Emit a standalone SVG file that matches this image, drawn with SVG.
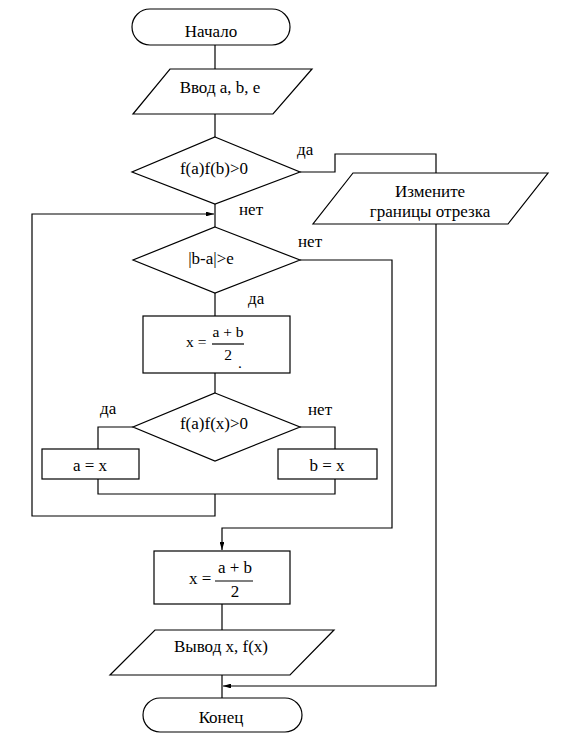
<svg xmlns="http://www.w3.org/2000/svg" width="568" height="746" viewBox="0 0 568 746">
<defs>
<marker id="arr" viewBox="0 0 10 6" refX="10" refY="3" markerWidth="8" markerHeight="4.8" markerUnits="userSpaceOnUse" orient="auto">
<path d="M0,0 L10,3 L0,6 Z" fill="#000"/>
</marker>
<style>
.s{fill:#fff;stroke:#000;stroke-width:1.2}
.c{fill:none;stroke:#000;stroke-width:1.2}
.t{font-family:'Liberation Serif','DejaVu Serif',serif;font-size:17px;fill:#000}
.m{text-anchor:middle}
.f{font-size:15.5px}
</style>
</defs>
<rect width="568" height="746" fill="#fff"/>
<g id="connectors">
<path class="c" d="M215,45 V69"/>
<path class="c" d="M215,114 V137"/>
<path class="c" d="M215,204 V227"/>
<path class="c" d="M300,172 H335 V154 H436 V173"/>
<path class="c" d="M436,224 V686 H223" marker-end="url(#arr)"/>
<path class="c" d="M215,293 V316"/>
<path class="c" d="M300,260 H392 V528 H222 V550" marker-end="url(#arr)"/>
<path class="c" d="M215,373 V393"/>
<path class="c" d="M133,427 H98 V449"/>
<path class="c" d="M300,427 H335 V449"/>
<path class="c" d="M98,479 V494 H335 V479"/>
<path class="c" d="M215,494 V516 H32 V214 H214" marker-end="url(#arr)"/>
<path class="c" d="M222,604 V630"/>
<path class="c" d="M222,675 V698"/>
</g>
<g class="t" font-family="Liberation Serif, DejaVu Serif, serif">
<g id="start">
<rect class="s" x="132" y="9" width="158" height="36" rx="18" ry="18"/>
<text class="m" x="211" y="37">Начало</text>
</g>
<g id="input">
<path class="s" d="M170,69 H312 L273,114 H133 Z"/>
<text class="m" x="220" y="93">Ввод a, b, e</text>
</g>
<g id="cond1">
<path class="s" d="M215,137 L300,172 L215,204 L132,172 Z"/>
<text class="m" x="214" y="174">f(a)f(b)&gt;0</text>
<text x="297" y="155">да</text>
<text x="239" y="215">нет</text>
</g>
<g id="change">
<path class="s" d="M353,173 H548 L508,224 H313 Z"/>
<text class="m" x="430" y="197">Измените</text>
<text class="m" x="430" y="217">границы отрезка</text>
</g>
<g id="cond2">
<path class="s" d="M215,227 L300,260 L215,293 L133,260 Z"/>
<text class="m" x="211" y="264">|b-a|&gt;e</text>
<text x="298" y="247">нет</text>
<text x="248" y="304">да</text>
</g>
<g id="calc1">
<rect class="s" x="143" y="316" width="147" height="57"/>
<text class="f" x="186" y="347">x =</text>
<text class="f m" x="228" y="337">a + b</text>
<path class="c" d="M212,344 H244"/>
<text class="f m" x="228" y="360">2</text>
<text class="f" x="238" y="368">.</text>
</g>
<g id="cond3">
<path class="s" d="M215,393 L300,427 L215,461 L133,427 Z"/>
<text class="m" x="214" y="429">f(a)f(x)&gt;0</text>
<text x="100" y="414">да</text>
<text x="308" y="415">нет</text>
</g>
<g id="assignA">
<rect class="s" x="42" y="449" width="97" height="30"/>
<text class="m" x="90" y="471">a = x</text>
</g>
<g id="assignB">
<rect class="s" x="278" y="449" width="99" height="30"/>
<text class="m" x="327" y="471">b = x</text>
</g>
<g id="calc2">
<rect class="s" x="154" y="551" width="136" height="53"/>
<text x="189" y="584">x =</text>
<text class="m" x="235" y="573">a + b</text>
<path class="c" d="M215,581 H253"/>
<text class="m" x="235" y="597">2</text>
</g>
<g id="output">
<path class="s" d="M155,630 H334 L290,675 H110 Z"/>
<text class="m" x="221" y="652">Вывод x, f(x)</text>
</g>
<g id="end">
<rect class="s" x="143" y="698" width="159" height="34" rx="17" ry="17"/>
<text class="m" x="221" y="723">Конец</text>
</g>
</g>
</svg>
